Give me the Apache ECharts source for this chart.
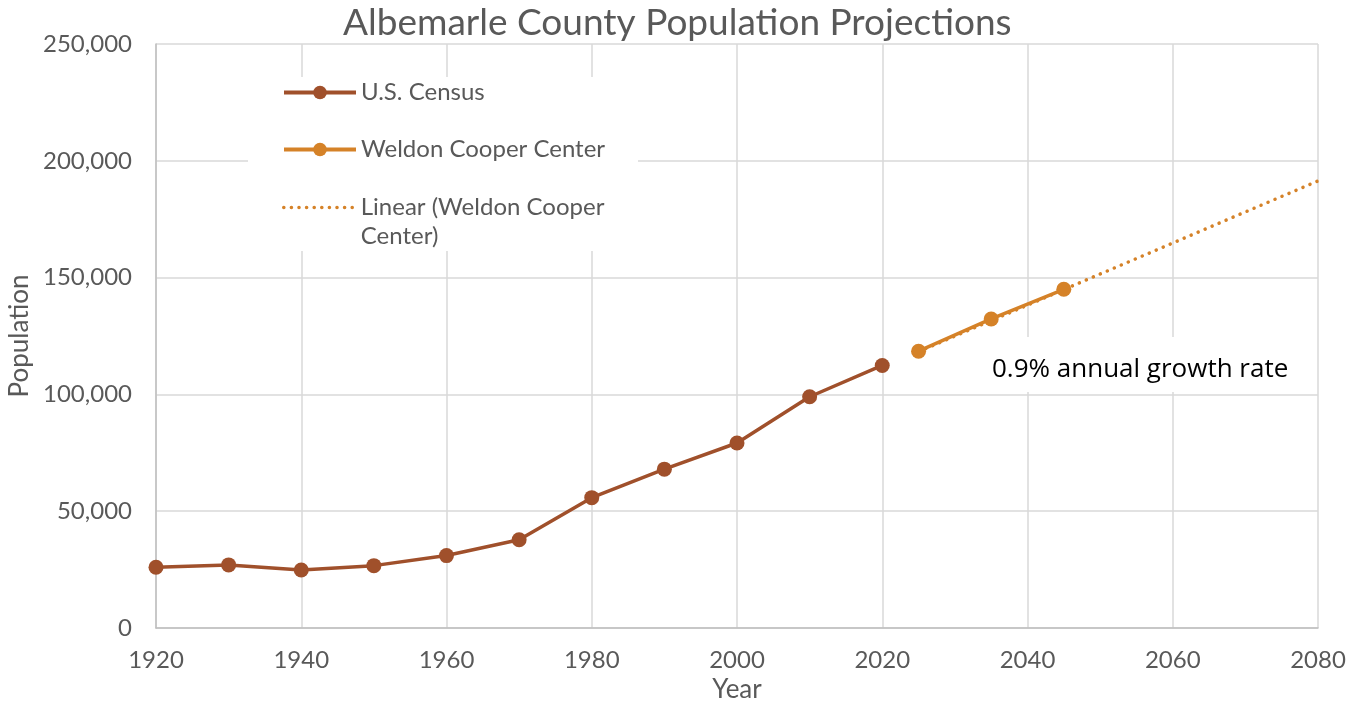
<!doctype html>
<html lang="en">
<head>
<meta charset="UTF-8">
<title>Albemarle County Population Projections</title>
<script src="https://cdn.jsdelivr.net/npm/echarts@6/dist/echarts.min.js"></script>
<style>
  html, body { margin: 0; padding: 0; background: #fff; }
  #main { width: 1364px; height: 704px; }
</style>
</head>
<body>
<div id="main"></div>
<script>
// data
var censusYears = [1920, 1930, 1940, 1950, 1960, 1970, 1980, 1990, 2000, 2010, 2020];
var censusPop = [26000, 27000, 24800, 26700, 31000, 37800, 55800, 68000, 79200, 99000, 112400];
var weldonYears = [2025, 2035, 2045];
var weldonPop = [118500, 132300, 145000];
var trendYears = [2025, 2080];
var trendPop = [118300, 191400];

function pairs(xs, ys) {
  return xs.map(function (x, i) { return [x, ys[i]]; });
}

var textGrey = '#595959';
var censusColor = '#a0502b';
var weldonColor = '#d58228';

var myChart = echarts.init(document.getElementById('main'));

var option = {
  backgroundColor: '#fff',
  animation: false,
  textStyle: { fontFamily: 'Lato' },
  title: {
    text: 'Albemarle County Population Projections',
    left: 338,
    top: 0,
    textStyle: { fontFamily: 'Lato', fontWeight: 'normal', fontSize: 37, color: textGrey }
  },
  grid: { left: 156, right: 46, top: 44, bottom: 76, outerBoundsMode: 'none' },
  legend: [{
    data: ['U.S. Census', 'Weldon Cooper Center'],
    orient: 'vertical',
    left: 282,
    top: 78,
    padding: 0,
    itemWidth: 72,
    itemHeight: 17,
    itemGap: 28,
    lineStyle: { width: 4 },
    textStyle: { fontFamily: 'Lato', fontSize: 24, lineHeight: 29, color: textGrey }
  }, {
    data: [{
      name: 'Linear (Weldon Cooper Center)',
      itemStyle: { color: 'rgba(0,0,0,0)', opacity: 0 }
    }],
    orient: 'vertical',
    left: 282,
    top: 164,
    padding: 0,
    itemWidth: 72,
    itemHeight: 17,
    lineStyle: { width: 3.5 },
    // blank first line keeps the icon level with the first text line
    formatter: function () { return ' \nLinear (Weldon Cooper\nCenter)'; },
    textStyle: { fontFamily: 'Lato', fontSize: 24, lineHeight: 29, color: textGrey }
  }],
  graphic: [{
    type: 'rect',
    z: 3,
    shape: { x: 248, y: 77, width: 390, height: 174 },
    style: { fill: '#fff' }
  }, {
    type: 'rect',
    z: 3,
    shape: { x: 985, y: 337, width: 305, height: 55 },
    style: { fill: '#fff' }
  }, {
    type: 'text',
    z: 4,
    left: 992,
    top: 357,
    style: {
      text: '0.9% annual growth rate',
      font: '26px "Open Sans"',
      fill: '#000'
    }
  }],
  xAxis: {
    type: 'value',
    min: 1920,
    max: 2080,
    interval: 20,
    name: 'Year',
    nameLocation: 'middle',
    nameGap: 47,
    nameTextStyle: { fontFamily: 'Lato', fontSize: 26, color: textGrey },
    axisLine: { lineStyle: { color: '#bfbfbf', width: 1.5 } },
    axisTick: { show: false },
    axisLabel: {
      fontFamily: 'Lato', fontSize: 24, color: textGrey, margin: 20,
      formatter: function (v) { return String(v); }
    },
    splitLine: { show: true, lineStyle: { color: '#d9d9d9', width: 1.5 } }
  },
  yAxis: {
    type: 'value',
    min: 0,
    max: 250000,
    interval: 50000,
    name: 'Population',
    nameLocation: 'middle',
    nameGap: 117,
    nameTextStyle: { fontFamily: 'Lato', fontSize: 26, color: textGrey },
    axisLine: { show: true, lineStyle: { color: '#bfbfbf', width: 1.5 } },
    axisTick: { show: false },
    axisLabel: {
      fontFamily: 'Lato', fontSize: 24, color: textGrey, margin: 24,
      formatter: function (v) { return v.toLocaleString('en-US'); }
    },
    splitLine: { show: true, lineStyle: { color: '#d9d9d9', width: 1.5 } }
  },
  series: [{
    name: 'U.S. Census',
    type: 'line',
    data: pairs(censusYears, censusPop),
    symbol: 'circle',
    symbolSize: 15,
    itemStyle: { color: censusColor },
    lineStyle: { color: censusColor, width: 3.5 },
    z: 5
  }, {
    name: 'Linear (Weldon Cooper Center)',
    type: 'line',
    data: pairs(trendYears, trendPop),
    symbol: 'none',
    itemStyle: { color: weldonColor },
    lineStyle: { color: weldonColor, width: 3.5, type: [0.1, 7.5], cap: 'round' },
    z: 4
  }, {
    name: 'Weldon Cooper Center',
    type: 'line',
    data: pairs(weldonYears, weldonPop),
    symbol: 'circle',
    symbolSize: 15,
    itemStyle: { color: weldonColor },
    lineStyle: { color: weldonColor, width: 3.5 },
    z: 5
  }]
};

myChart.setOption(option);
</script>
</body>
</html>
